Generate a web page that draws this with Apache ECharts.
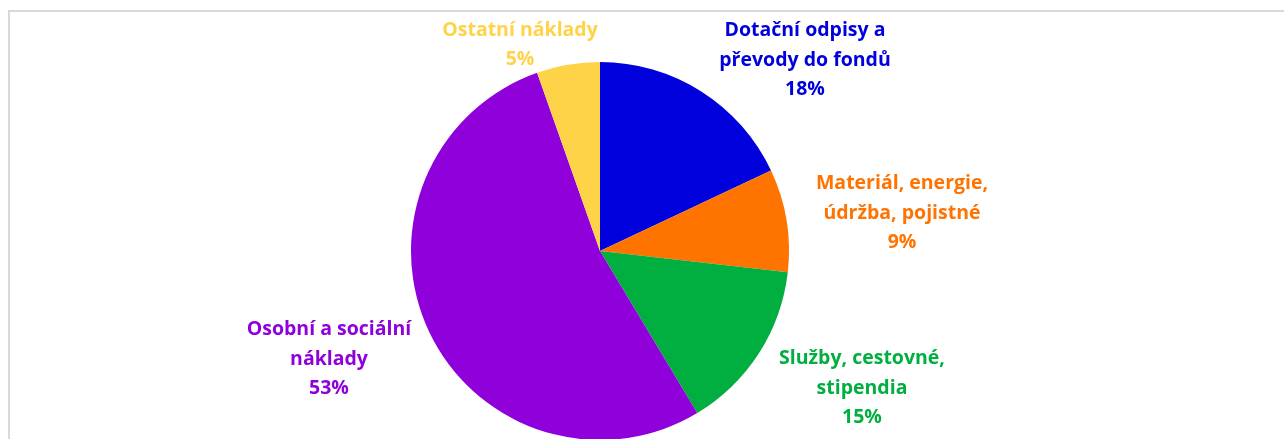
<!DOCTYPE html>
<html>
<head>
<meta charset="utf-8">
<script src="https://cdn.jsdelivr.net/npm/echarts@6/dist/echarts.min.js"></script>
<style>
	html, body { margin: 0; padding: 0; background: #fff; overflow: hidden; }
	#frame { position: absolute; left: 8px; top: 10px; width: 1300px; height: 460px; border: 2px solid #d9d9d9; box-sizing: border-box; }
	#chart { position: absolute; left: 0; top: 0; width: 1284px; height: 439px; }
</style>
</head>
<body>
<div id="frame"></div>
<div id="chart"></div>
<script>
var names = ['Dotační odpisy a\npřevody do fondů', 'Materiál, energie,\núdržba, pojistné', 'Služby, cestovné,\nstipendia', 'Osobní a sociální\nnáklady', 'Ostatní náklady'];
var values = [18.0, 8.8, 14.6, 53.2, 5.4];
var colors = ['#0000dc', '#ff7300', '#00af3f', '#8f00db', '#ffd347'];
// label centres (text block) per slice
var labelPos = [[805, 60], [902, 213], [862, 388], [329, 359], [520, 45]];

var chart = echarts.init(document.getElementById('chart'));
var option = {
	animation: false,
	series: [{
		type: 'pie',
		center: [600, 251],
		radius: 189,
		startAngle: 90,
		clockwise: true,
		percentPrecision: 0,
		data: names.map(function(n, i) {
			return {
				name: n,
				value: values[i],
				itemStyle: { color: colors[i] },
				label: { color: colors[i] }
			};
		}),
		label: {
			show: true,
			position: 'outside',
			formatter: '{b}\n{d}%',
			fontFamily: 'Open Sans',
			fontWeight: 'bold',
			fontSize: 19.5,
			lineHeight: 29.5,
			align: 'center'
		},
		labelLine: { show: false },
		labelLayout: function(params) {
			var p = labelPos[params.dataIndex];
			return { x: p[0], y: p[1], align: 'center', verticalAlign: 'middle' };
		},
		emphasis: { disabled: true }
	}]
};
chart.setOption(option);
</script>
</body>
</html>
